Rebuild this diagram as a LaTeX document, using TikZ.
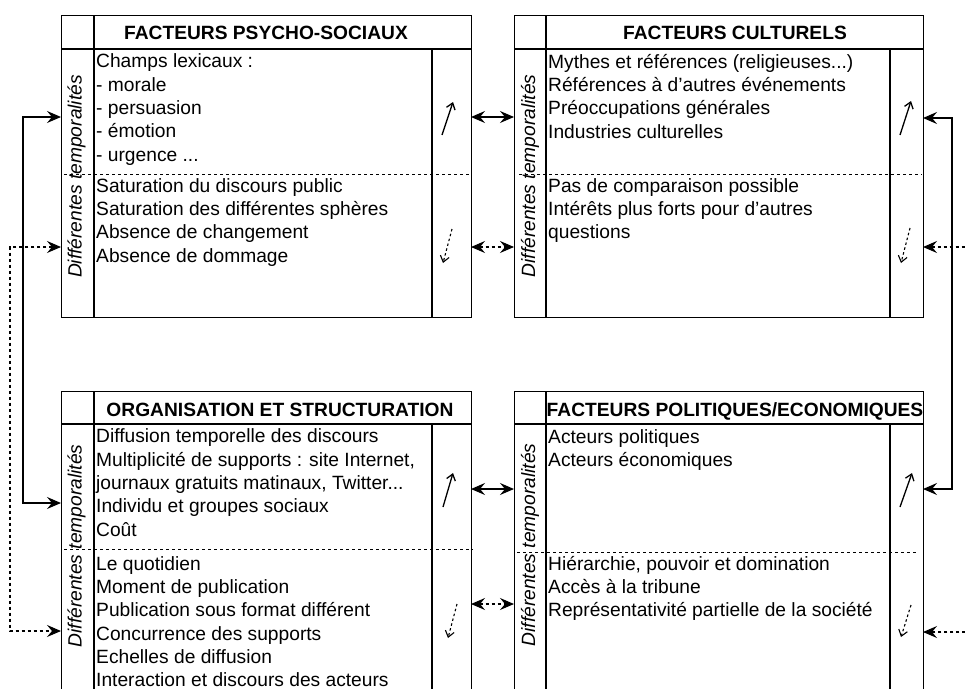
\documentclass[tikz,border=0pt]{standalone}
\usepackage{fontspec}
\setmainfont{Liberation Sans}
\usetikzlibrary{arrows.meta}
\tikzset{
  frame/.style={draw, line width=1.4pt, inner sep=0pt, anchor=north west},
  rule/.style={line width=1.4pt},
  cut/.style={line width=1pt, dash pattern=on 3pt off 3pt},
  title/.style={font=\bfseries\fontsize{19.2}{23.33}\selectfont, anchor=base, inner sep=0pt},
  txt/.style={font=\fontsize{19.2}{23.33}\selectfont, align=left, anchor=north west, inner sep=0pt, execute at begin node=\strut},
  tmp/.style={font=\itshape\fontsize{19.2}{23.33}\selectfont, rotate=90, anchor=base, inner sep=0pt},
  link/.style={line width=1.3pt, {Stealth[length=14pt,width=12pt,inset=5pt]}-{Stealth[length=14pt,width=12pt,inset=5pt]}},
  dlink/.style={link, line width=1.1pt, dash pattern=on 3pt off 3pt},
  rise/.style={line width=1.3pt, -{Straight Barb[length=6pt,width=9pt]}},
  fall/.style={rise, line width=1.1pt, dash pattern=on 2.5pt off 2.5pt},
}
\begin{document}
\begin{tikzpicture}[x=1pt, y=-1pt]
\useasboundingbox (0,0) rectangle (965,688);
\clip (0,0) rectangle (965,688);

\node[frame, minimum width=410pt, minimum height=302pt] (psy) at (61,15) {};
\draw[rule] (61,49) -- (471,49);
\draw[rule] (94,15) -- (94,317);
\draw[rule] (432,49) -- (432,317);
\draw[cut] (64,174) -- (471,174);
\node[title] (psyT) at (266,39.3) {FACTEURS PSYCHO-SOCIAUX};
\node[tmp] (psyD) at (81.7,176.5) {Différentes temporalités};
\node[txt] (psyA) at (96,53.7) {Champs lexicaux :\\- morale\\- persuasion\\- émotion\\- urgence ...};
\node[txt] (psyB) at (96,178) {Saturation du discours public\\Saturation des différentes sphères\\Absence de changement\\Absence de dommage};
\draw[rise] (442,135) -- (453,102);
\draw[fall] (452,229) -- (443,263);

\node[frame, minimum width=409pt, minimum height=302pt] (cult) at (514,15) {};
\draw[rule] (514,49) -- (923,49);
\draw[rule] (546,15) -- (546,317);
\draw[rule] (890,49) -- (890,317);
\draw[cut] (519,174) -- (922,174);
\node[title] (cultT) at (735,39.3) {FACTEURS CULTURELS};
\node[tmp] (cultD) at (535,176) {Différentes temporalités};
\node[txt] (cultA) at (548,53.7) {Mythes et références (religieuses...)\\Références à d’autres événements\\Préoccupations générales\\Industries culturelles};
\node[txt] (cultB) at (548,178) {Pas de comparaison possible\\Intérêts plus forts pour d’autres\\questions};
\draw[rise] (900,135) -- (911,101);
\draw[fall] (910,228) -- (901,263);

\node[frame, minimum width=410pt, minimum height=330pt] (org) at (61,391) {};
\draw[rule] (61,424) -- (471,424);
\draw[rule] (94,391) -- (94,721);
\draw[rule] (432,424) -- (432,721);
\draw[cut] (64,549) -- (473,549);
\node[title] (orgT) at (280,416.7) {ORGANISATION ET STRUCTURATION};
\node[tmp] (orgD) at (81.7,546) {Différentes temporalités};
\node[txt] (orgA) at (96,428.7) {Diffusion temporelle des discours\\Multiplicité de supports : site Internet,\\journaux gratuits matinaux, Twitter...\\Individu et groupes sociaux\\Coût};
\node[txt] (orgB) at (96,556) {Le quotidien\\Moment de publication\\Publication sous format différent\\Concurrence des supports\\Echelles de diffusion\\Interaction et discours des acteurs};
\draw[rise] (443,507) -- (453,473);
\draw[fall] (457,604) -- (448,638);

\node[frame, minimum width=409pt, minimum height=330pt] (pol) at (514,391) {};
\draw[rule] (514,424) -- (923,424);
\draw[rule] (546,391) -- (546,721);
\draw[rule] (890,424) -- (890,721);
\draw[cut] (517,552) -- (917,552);
\node[title] (polT) at (735,416.7) {FACTEURS POLITIQUES/ECONOMIQUES};
\node[tmp] (polD) at (535,545) {Différentes temporalités};
\node[txt] (polA) at (548,429.4) {Acteurs politiques\\Acteurs économiques};
\node[txt] (polB) at (548,555.7) {Hiérarchie, pouvoir et domination\\Accès à la tribune\\Représentativité partielle de la société};
\draw[rise] (900,507) -- (912,473);
\draw[fall] (911,605) -- (901,637);

\coordinate (psyL1) at (61,117);
\coordinate (psyL2) at (61,247);
\coordinate (psyR1) at (471,117);
\coordinate (psyR2) at (471,247);
\coordinate (cultL1) at (514,117);
\coordinate (cultL2) at (514,247);
\coordinate (cultR1) at (923,118);
\coordinate (cultR2) at (923,247);
\coordinate (orgL1) at (61,503);
\coordinate (orgL2) at (61,631);
\coordinate (orgR1) at (471,489);
\coordinate (orgR2) at (471,604);
\coordinate (polL1) at (514,489);
\coordinate (polL2) at (514,604);
\coordinate (polR1) at (923,489);
\coordinate (polR2) at (923,632);

\draw[link] (psyL1) -- ++(-38,0) |- (orgL1);
\draw[dlink] (psyL2) -- ++(-51,0) |- (orgL2);
\draw[link] (cultR1) -- ++(29,0) |- (polR1);
\draw[dlink] (cultR2) -- ++(55,0) |- (polR2);
\draw[link] (psyR1) -- (cultL1);
\draw[dlink] (psyR2) -- (cultL2);
\draw[link] (orgR1) -- (polL1);
\draw[dlink] (orgR2) -- (polL2);

\end{tikzpicture}
\end{document}
